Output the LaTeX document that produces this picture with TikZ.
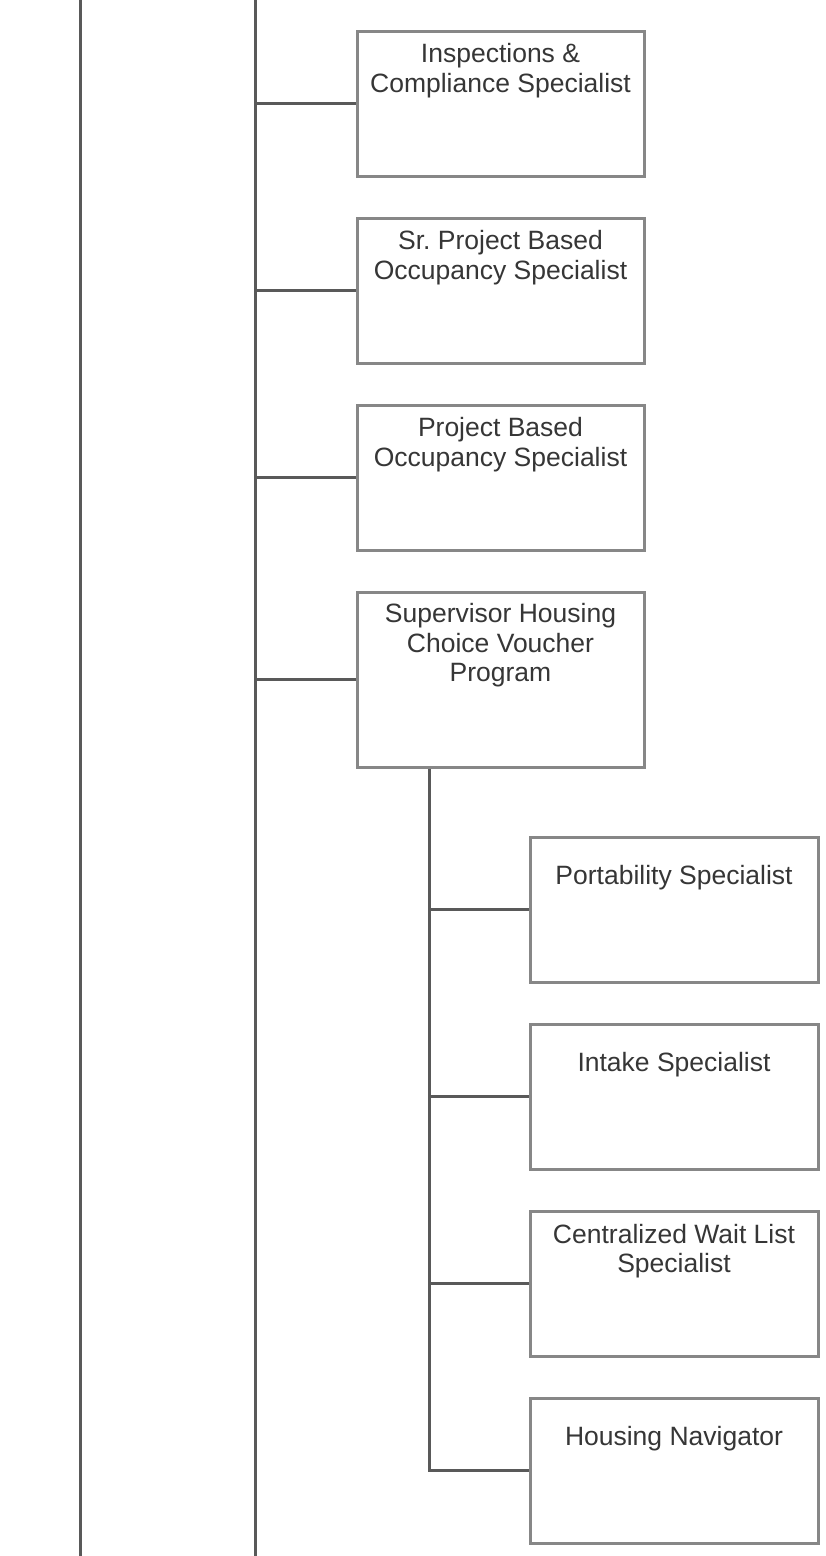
\documentclass[tikz,border=0pt]{standalone}
\usepackage{fontspec}
\setmainfont{Liberation Sans}
\usetikzlibrary{positioning,calc}
\definecolor{linegray}{HTML}{595959}
\definecolor{boxgray}{HTML}{878787}
\definecolor{textgray}{HTML}{363636}
\pgfdeclarelayer{background}
\pgfsetlayers{background,main}

\begin{document}
\begin{tikzpicture}[% one unit is one pixel of the chart, y runs downwards
			x=1pt,y=-1pt,
			every node/.style={
				align=center,		% so that "\\" breaks the line
				inner sep=0pt,
				outer sep=0pt
			},
			rolebox/.style={rectangle,draw=boxgray,line width=3pt,fill=white,
				minimum width=287pt,minimum height=145pt},
			roletext/.style={anchor=north,text=textgray,
				font=\fontsize{26.5}{29.5}\selectfont},
			link/.style={draw=linegray,line width=3pt}
		]
		\useasboundingbox (0,0) rectangle (825,1556);
		% upper column of roles
		\node[rolebox](R1) at (500.5,103.75) {};
		\node[rolebox](R2)[below=42pt of R1] {};
		\node[rolebox](R3)[below=42pt of R2] {};
		\node[rolebox,minimum height=175pt](R4)[below=42pt of R3] {};
		% roles under the supervisor
		\node[rolebox,minimum width=288pt,anchor=north west](S1) at ([xshift=173pt,yshift=-70pt]R4.south west) {};
		\node[rolebox,minimum width=288pt](S2)[below=42pt of S1] {};
		\node[rolebox,minimum width=288pt](S3)[below=42pt of S2] {};
		\node[rolebox,minimum width=288pt](S4)[below=42pt of S3] {};
		% titles
		\node[roletext](R1t) at ([yshift=-12.5pt]R1.north) {Inspections \&\\ Compliance Specialist};
		\node[roletext](R2t) at ([yshift=-12.5pt]R2.north) {Sr.\ Project Based\\ Occupancy Specialist};
		\node[roletext](R3t) at ([yshift=-12.5pt]R3.north) {Project Based\\ Occupancy Specialist};
		\node[roletext](R4t) at ([yshift=-11.5pt]R4.north) {Supervisor Housing\\ Choice Voucher\\ Program};
		\node[roletext](S1t) at ([yshift=-28pt]S1.north) {Portability Specialist};
		\node[roletext](S2t) at ([yshift=-28pt]S2.north) {Intake Specialist};
		\node[roletext](S3t) at ([yshift=-13pt]S3.north) {Centralized Wait List\\ Specialist};
		\node[roletext](S4t) at ([yshift=-28pt]S4.north) {Housing Navigator};
		% trunk lines and branches
		\coordinate (L0) at (80,-5);
		\coordinate (L1) at (80,1561);
		\coordinate (T0) at (255,-5);
		\coordinate (T1) at (255,1561);
		\coordinate (B0) at ([xshift=72pt]R4.south west);
		\begin{pgfonlayer}{background}
			\draw[link] (L0) -- (L1);
			\draw[link] (T0) -- (T1);
			\foreach \n in {R1,R2,R3,R4}
				\draw[link] (\n.west -| T0) -- (\n.west);
			\draw[link] (B0) |- (S4.west);
			\foreach \n in {S1,S2,S3}
				\draw[link] (\n.west -| B0) -- (\n.west);
		\end{pgfonlayer}
	\end{tikzpicture}
\end{document}
